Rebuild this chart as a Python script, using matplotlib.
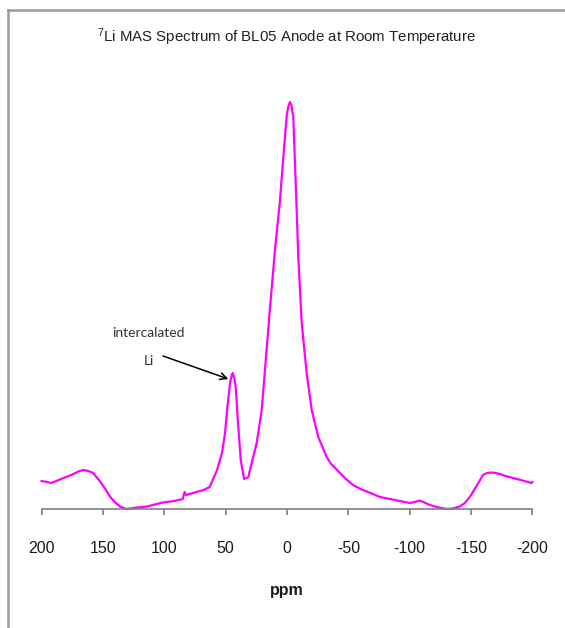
import matplotlib
matplotlib.use("Agg")
import matplotlib.pyplot as plt
from matplotlib.lines import Line2D

plt.rcParams['font.family'] = ['Liberation Sans', 'DejaVu Sans']
plt.rcParams['mathtext.fontset'] = 'custom'
plt.rcParams['mathtext.rm'] = 'Liberation Sans'

# 7Li MAS spectrum, chemical shift (ppm) vs intensity (arb. units)
shift_ppm = [200, 196, 192, 186, 180, 174, 170, 166, 162, 158, 152, 148, 144, 140,
             136, 131, 122, 114, 108, 101, 92, 85, 83.5, 82.3,
             68, 63, 57, 53, 50.5, 48.6, 46.4, 45.2, 44.2, 43.0, 41.8, 39.7, 37.7,
             35.0, 31.5, 28.8, 24.7, 20.6, 17.1, 13.8, 9.8, 5.7, 3.0, 0.2, -1.2,
             -2.4, -3.6, -5.1, -7.3, -9.2, -12.0, -16.0, -20.1, -25.5, -32.3, -36.0,
             -43.2, -48.0, -53.8, -60.0, -66.0, -75.8, -88.0, -100.2, -104.0, -108.3,
             -112.0, -116.4, -122.0, -130.1, -135.0, -140.8, -145.0, -149.0, -154.0,
             -159.7, -163.0, -166.8, -170.0, -173.5, -178.0, -184.1, -192.0, -199.3, -200]
intensity = [28, 27, 26, 29, 32, 35, 37.5, 39, 38, 36, 27, 20, 12, 6.5,
             2.5, 0, 1.5, 2.5, 4.5, 6.5, 8, 10, 17, 14,
             19, 22, 39, 56, 76, 102, 126, 133, 136, 131, 122, 82, 49,
             30, 32, 46, 66, 99, 152, 202, 259, 309, 352, 394, 403,
             407, 404, 392, 319, 252, 186, 136, 99, 72, 52, 45,
             36, 30, 24, 20, 17, 12, 9, 6, 7, 8.5,
             6.5, 4, 2, 0, 0.5, 2.5, 6, 12, 22,
             34, 36, 36.5, 36, 35, 33, 31, 28.5, 26, 27]

xticks = [200, 150, 100, 50, 0, -50, -100, -150, -200]
title = r"$\mathregular{^7}$Li MAS Spectrum of BL05 Anode at Room Temperature"

W, H = 565, 628
fig = plt.figure(figsize=(W / 100, H / 100), dpi=100)
ax = fig.add_axes([41.6 / W, 1 - 509 / H, 490.8 / W, 419 / H])

ax.plot(shift_ppm, intensity, color='#ff00ff', lw=1.6, clip_on=False)
ax.set_xlim(200, -200)
ax.set_ylim(0, 419)

for s in ['left', 'right', 'top']:
    ax.spines[s].set_visible(False)
ax.spines['bottom'].set_color('#808080')
ax.spines['bottom'].set_linewidth(1.2)
ax.set_yticks([])
ax.set_xticks(xticks)
ax.set_xticklabels([str(t) for t in xticks])
ax.tick_params(axis='x', direction='out', length=4, width=1.2, color='#808080',
               pad=19, labelsize=11.5, labelcolor='#1a1a1a')

fig.text(287 / W, 1 - 591 / H, 'ppm', ha='center', va='center',
         fontsize=11.5, fontweight='bold', color='#1a1a1a')
fig.text(286 / W, 1 - 37 / H, title, ha='center', va='center',
         fontsize=10.8, color='#222222')

# label and arrow for the intercalated Li peak
fig.text(148 / W, 1 - 333 / H, 'intercalated', ha='center', va='center',
         fontsize=10, family=['Lato', 'DejaVu Sans'], color='#333333')
fig.text(149 / W, 1 - 361 / H, 'Li', ha='center', va='center',
         fontsize=10, family=['Lato', 'DejaVu Sans'], color='#333333')
ax.annotate('', xy=(47.8, 130), xytext=(101, 153),
            arrowprops=dict(arrowstyle='->', color='black', lw=1.1,
                            shrinkA=0, shrinkB=0, mutation_scale=12))

# outer frame lines (left and top only)
fig.add_artist(Line2D([8 / W, 8 / W], [0, 1 - 10 / H], transform=fig.transFigure,
                      color='#9a9a9a', lw=1.8))
fig.add_artist(Line2D([8 / W, 1], [1 - 10 / H, 1 - 10 / H], transform=fig.transFigure,
                      color='#9a9a9a', lw=1.8))

fig.savefig('out.png', dpi=100)
